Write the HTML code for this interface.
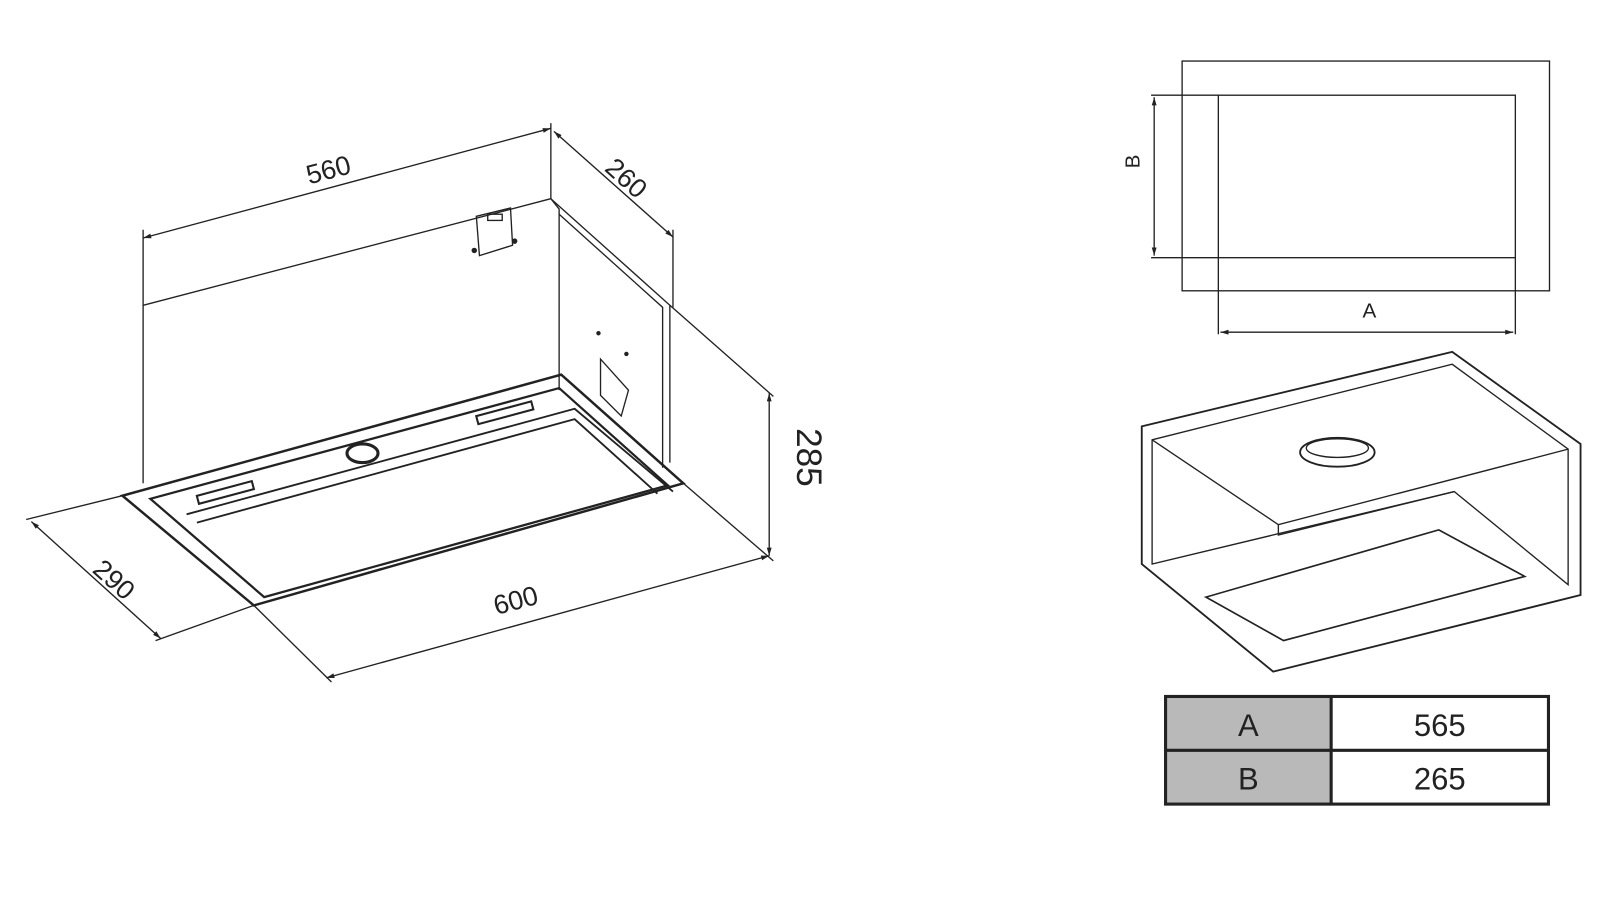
<!DOCTYPE html>
<html><head><style>html,body{margin:0;padding:0;background:#fff}svg{display:block}</style></head><body>
<svg width="1615" height="920" viewBox="0 0 1560 889" xmlns="http://www.w3.org/2000/svg" font-family="Liberation Sans, sans-serif">
<defs><marker id="a" viewBox="0 0 10 10" refX="10" refY="5" markerWidth="8" markerHeight="6" orient="auto-start-reverse"><path d="M0,2 L10,5 L0,8z" fill="#222"/></marker></defs>
<g transform="translate(-5,-3)">
<g fill="none" stroke="#222" stroke-width="1.3">
<line x1="143" y1="233" x2="537" y2="127" marker-start="url(#a)" marker-end="url(#a)"/>
<line x1="143" y1="225" x2="143" y2="470"/>
<line x1="537" y1="122" x2="537" y2="195"/>
<line x1="540" y1="130" x2="655" y2="232" marker-start="url(#a)" marker-end="url(#a)"/>
<line x1="655" y1="225" x2="655" y2="300"/>
<path d="M143,298 L537,195 L545,205 L545,380"/>
<path d="M537,195 L652,298 L652,450"/>
<path d="M545,210 L645,300 L645,455"/>
<path d="M465,212 L498,204 L500,240 L468,250 Z"/>
<circle cx="463" cy="245" r="2" fill="#222"/><circle cx="502" cy="236" r="2" fill="#222"/>
<rect x="476" y="210" width="14" height="6"/>
<circle cx="583" cy="325" r="1.5" fill="#222"/><circle cx="610" cy="345" r="1.5" fill="#222"/>
<path d="M585,350 L585,385 L605,405 L612,380 Z"/>
<path d="M123,482 L547,365 L665,470 L250,588 Z" stroke-width="2.4"/>
<path d="M150,485 L545,378 L650,472 L260,580 Z" stroke-width="2.2"/>
<path d="M185,500 L560,398 L655,478" stroke-width="1.8"/>
<path d="M195,508 L560,408 L640,480" stroke-width="1.8"/>
<rect x="195" y="475" width="55" height="8" transform="rotate(-15 222 479)" stroke-width="2"/>
<rect x="465" y="398" width="55" height="8" transform="rotate(-15 492 402)" stroke-width="2"/>
<ellipse cx="355" cy="441" rx="15" ry="9" stroke-width="3"/>
<line x1="320" y1="658" x2="748" y2="540" marker-start="url(#a)" marker-end="url(#a)"/>
<line x1="250" y1="588" x2="325" y2="662"/>
<line x1="665" y1="470" x2="752" y2="545"/>
<line x1="748" y1="383" x2="748" y2="540" marker-start="url(#a)" marker-end="url(#a)"/>
<line x1="652" y1="298" x2="752" y2="386"/>
<line x1="35" y1="507" x2="160" y2="620" marker-start="url(#a)" marker-end="url(#a)"/>
<line x1="123" y1="482" x2="30" y2="505"/>
<line x1="250" y1="588" x2="155" y2="622"/>
<rect x="1147" y="62" width="355" height="222"/>
<rect x="1182" y="95" width="287" height="157"/>
<line x1="1117" y1="95" x2="1182" y2="95"/><line x1="1117" y1="252" x2="1182" y2="252"/>
<line x1="1120" y1="97" x2="1120" y2="250" marker-start="url(#a)" marker-end="url(#a)"/>
<line x1="1182" y1="252" x2="1182" y2="326"/><line x1="1469" y1="252" x2="1469" y2="326"/>
<line x1="1184" y1="324" x2="1467" y2="324" marker-start="url(#a)" marker-end="url(#a)"/>
<path d="M1108,415 L1408,343 L1532,432 L1532,578 L1235,652 L1108,548 Z" stroke-width="1.8"/>
<path d="M1118,428 L1408,355 L1520,437 L1520,568 L1410,478 L1118,548 Z"/>
<path d="M1118,428 L1240,510 L1520,437"/>
<path d="M1240,510 L1240,520 L1410,478"/>
<path d="M1170,580 L1395,515 L1478,560 L1245,622 Z" stroke-width="1.6"/>
<ellipse cx="1297" cy="440" rx="36" ry="14" stroke-width="1.8"/>
<ellipse cx="1297" cy="436" rx="30" ry="9"/>
</g>
<g fill="#222" font-size="26">
<text x="322" y="176" text-anchor="middle" transform="rotate(-15 322 167)">560</text>
<text x="610" y="184" text-anchor="middle" transform="rotate(42 610 175)">260</text>
<text x="503" y="592" text-anchor="middle" transform="rotate(-15 503 583)">600</text>
<text x="115" y="572" text-anchor="middle" transform="rotate(42 115 563)">290</text>
<text x="765" y="455" text-anchor="middle" font-size="34" transform="rotate(90 775 455)">285</text>
<text x="1328" y="310" text-anchor="middle" font-size="20">A</text>
<text x="1113" y="166" text-anchor="middle" font-size="20" transform="rotate(-90 1106 166)">B</text>
</g>
<rect x="1131" y="676" width="159" height="104" fill="#b9b9b9"/>
<g fill="none" stroke="#222" stroke-width="3">
<rect x="1131" y="676" width="370" height="104"/>
<line x1="1291" y1="676" x2="1291" y2="780"/>
<line x1="1131" y1="728" x2="1501" y2="728"/>
</g>
<g fill="#222" font-size="30" text-anchor="middle">
<text x="1211" y="714">A</text><text x="1396" y="714">565</text>
<text x="1211" y="766">B</text><text x="1396" y="766">265</text>
</g>
</g>
</svg>
</body></html>
